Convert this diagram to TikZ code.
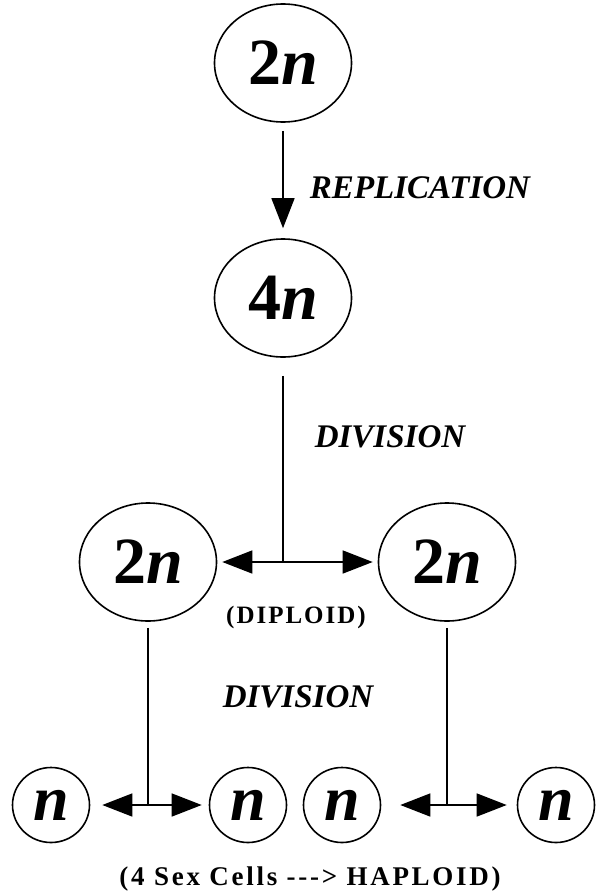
\documentclass[tikz,border=0pt]{standalone}
\usepackage{fontspec}
\setmainfont{Liberation Serif}
\usetikzlibrary{arrows.meta,shapes.geometric}
\begin{document}
\begin{tikzpicture}[x=1pt,y=-1pt,
  cell/.style={ellipse,draw,line width=1.6pt,inner sep=0pt},
  bigcell/.style={cell,minimum width=137pt,minimum height=118pt,
    font=\fontsize{66}{66}\selectfont\bfseries},
  smallcell/.style={cell,minimum width=77pt,minimum height=75pt,
    font=\fontsize{64}{64}\selectfont\bfseries\itshape},
  conn/.style={line width=1.5pt},
  arr/.style={conn,-{Triangle[length=30pt,width=23pt]}},
  proc/.style={font=\fontsize{33}{33}\selectfont\bfseries\itshape},
  note/.style={font=\fontsize{25}{25}\selectfont\bfseries\addfontfeature{LetterSpace=8}},
  bignote/.style={font=\fontsize{27}{27}\selectfont\bfseries\addfontfeature{LetterSpace=10}}]
\useasboundingbox (0,0) rectangle (602,894);
% cells
\node[bigcell] (top) at (283,63) {2\textit{n}};
\node[bigcell] (four) at (283,298) {4\textit{n}};
\node[bigcell] (l2) at (148,562) {2\textit{n}};
\node[bigcell] (r2) at (447,562) {2\textit{n}};
\node[smallcell] (na) at (51,805) {n};
\node[smallcell] (nb) at (248,805) {n};
\node[smallcell] (nc) at (342,805) {n};
\node[smallcell] (nd) at (556,805) {n};
% labels
\node[proc] (rep) at (420,188) {REPLICATION};
\node[proc] (div1) at (390,437) {DIVISION};
\node[proc] (div2) at (298,697) {DIVISION};
\node[note] (dip) at (296,617) {(DIPLOID)};
\node[bignote] (hap) at (310,879) {(4 Sex Cells \mbox{-{}-{}->} HAPLOID)};
% replication arrow
\draw[arr,shorten <=8pt,shorten >=10pt] (top.south) -- (four.north);
% first division
\coordinate (j1) at (four |- l2);
\draw[conn,shorten <=18pt] (four.south) -- (j1);
\draw[arr,shorten >=5pt] (j1) -- (l2.east);
\draw[arr,shorten >=5pt] (j1) -- (r2.west);
% second division
\coordinate (j2) at (l2 |- na);
\coordinate (j3) at (r2 |- nc);
\draw[conn,shorten <=6pt] (l2.south) -- (j2);
\draw[conn,shorten <=6pt] (r2.south) -- (j3);
\draw[arr,shorten >=12pt] (j2) -- (na.east);
\draw[arr,shorten >=7pt] (j2) -- (nb.west);
\draw[arr,shorten >=19pt] (j3) -- (nc.east);
\draw[arr,shorten >=10pt] (j3) -- (nd.west);
\end{tikzpicture}
\end{document}
